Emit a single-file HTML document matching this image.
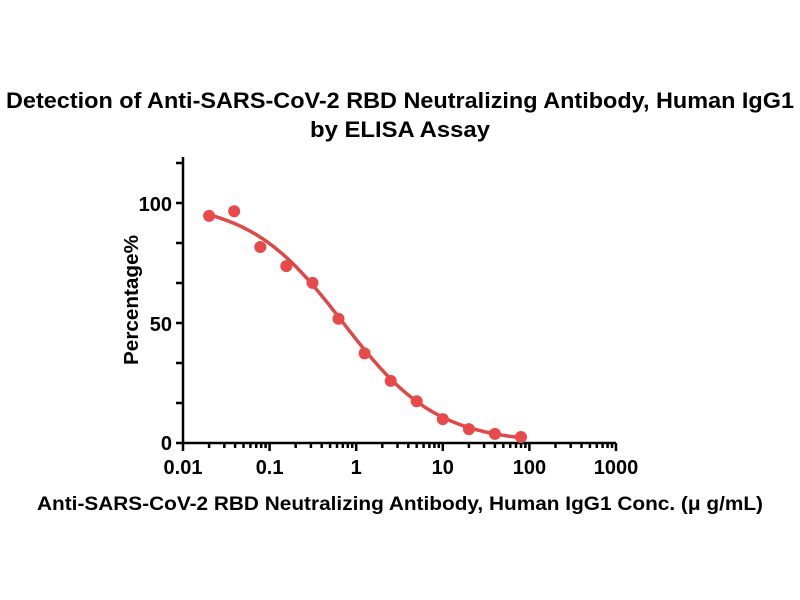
<!DOCTYPE html>
<html><head><meta charset="utf-8"><style>body{margin:0;background:#fff}svg{display:block}</style></head>
<body>
<svg id="s" width="800" height="600" xmlns="http://www.w3.org/2000/svg" font-family="Liberation Sans, sans-serif">
<text x="400" y="108" font-size="22" font-weight="bold" text-anchor="middle" textLength="788" lengthAdjust="spacingAndGlyphs">Detection of Anti-SARS-CoV-2 RBD Neutralizing Antibody, Human IgG1</text>
<text x="400" y="137" font-size="22" font-weight="bold" text-anchor="middle" textLength="180" lengthAdjust="spacingAndGlyphs">by ELISA Assay</text>
<text x="400" y="510" font-size="19" font-weight="bold" text-anchor="middle" textLength="726" lengthAdjust="spacingAndGlyphs">Anti-SARS-CoV-2 RBD Neutralizing Antibody, Human IgG1 Conc. (μ g/mL)</text>
<text transform="translate(138,300) rotate(-90)" font-size="20" font-weight="bold" text-anchor="middle" textLength="130" lengthAdjust="spacingAndGlyphs">Percentage%</text>
<g id="ax" stroke="#000" stroke-width="2.5" fill="none"></g>
<g id="lab" font-size="20" font-weight="bold" fill="#000"></g>
<path id="cv" stroke="#e04848" stroke-width="3.5" fill="none"/>
<g id="pts" fill="#e84a4a"></g>
</svg>
<script>
var X0=183,D=86.6,Y0=443,K=2.39;
function X(v){return X0+D*Math.log10(v/0.01)}
function Y(v){return Y0-K*v}
var ax=document.getElementById('ax'),lab=document.getElementById('lab'),h='';
h+='<path d="M183,157V443H616"/>';
for(var y=443;y>=160;y-=40)h+='<path d="M176,'+y+'H183"/>';
for(var d=0;d<5;d++)for(var m=1;m<10;m++){var x=X(0.01*Math.pow(10,d)*m);h+='<path d="M'+x.toFixed(1)+',443V'+(m==1?451:448)+'"/>';}
h+='<path d="M616,443V451"/>';
ax.innerHTML=h;
var l='';
[[100,204],[50,324],[0,443]].forEach(function(a){l+='<text x="172" y="'+(a[1]+7)+'" text-anchor="end">'+a[0]+'</text>'});
['0.01','0.1','1','10','100','1000'].forEach(function(t,i){l+='<text x="'+(X0+D*i)+'" y="474" text-anchor="middle">'+t+'</text>'});
lab.innerHTML=l;
function f(x){return 101/(1+Math.pow(x/0.7,0.8))}
var p='';for(var i=0;i<=200;i++){var lx=Math.log10(0.02)+i/200*(Math.log10(80)-Math.log10(0.02));var x=Math.pow(10,lx);p+=(i?'L':'M')+X(x).toFixed(1)+','+Y(f(x)).toFixed(1);}
document.getElementById('cv').setAttribute('d',p);
var data=[[0.02,95],[0.039,97],[0.078,82],[0.156,74],[0.3125,67],[0.625,52],[1.25,37.5],[2.5,26],[5,17.5],[10,10],[20,5.8],[40,3.8],[80,2.5]];
var q='';data.forEach(function(d){q+='<circle cx="'+X(d[0]).toFixed(1)+'" cy="'+Y(d[1]).toFixed(1)+'" r="6"/>'});
document.getElementById('pts').innerHTML=q;
</script>
</body></html>
